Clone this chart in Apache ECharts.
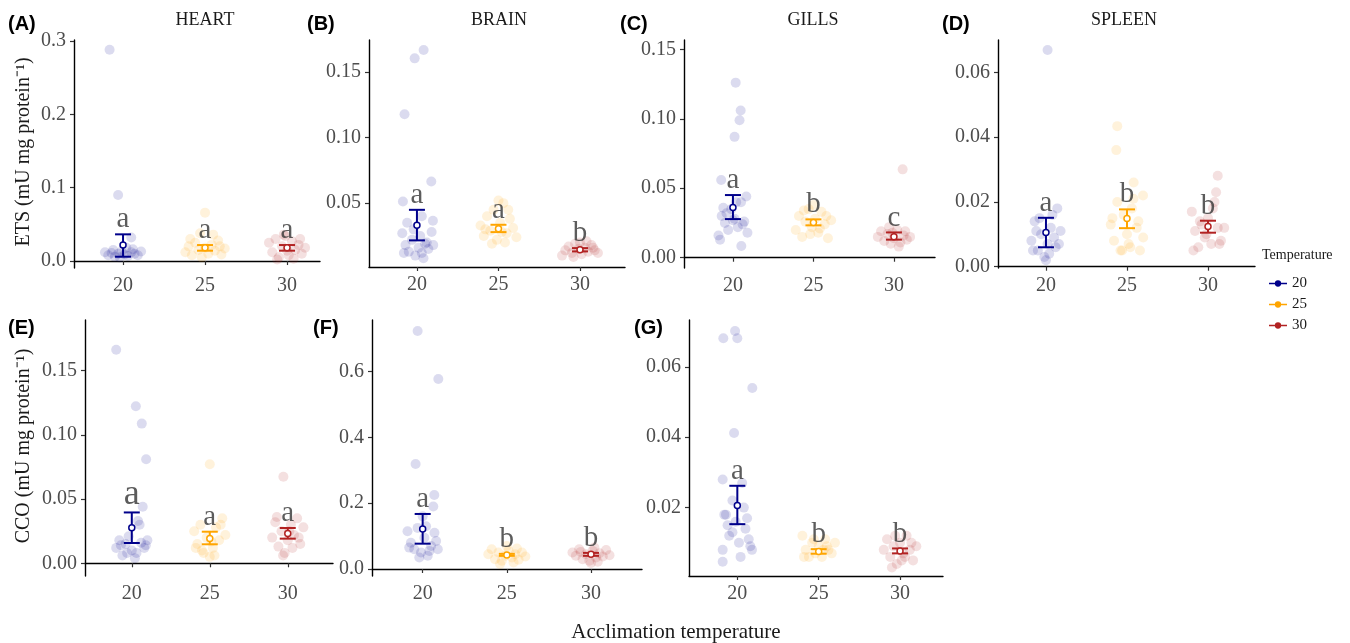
<!DOCTYPE html>
<html>
<head>
<meta charset="utf-8">
<script src="https://cdn.jsdelivr.net/npm/echarts@6/dist/echarts.min.js"></script>
<style>
  html, body { margin: 0; padding: 0; background: #fff; }
  #main { width: 1350px; height: 643px; }
</style>
</head>
<body>
<div id="main"></div>
<script type="text/javascript">
// acclimation temperatures (x categories) and legend
var temps = [20, 25, 30];
var organs = ['HEART', 'BRAIN', 'GILLS', 'SPLEEN'];

// individual points: [jitter offset, value] per temperature group
// ETS - heart (A)
var etsHeart = [
  [[-1.1,0.012],[-0.9,0.008],[-0.7,0.011],[-0.5,0.006],[-0.3,0.010],[-0.1,0.013],[0.1,0.009],[0.3,0.007],[0.5,0.012],[0.7,0.010],[0.9,0.008],[1.1,0.013],[-0.6,0.015],[0.6,0.016],[0.2,0.018],[-0.2,0.005],[0.5,0.032],[-0.82,0.288],[-0.3,0.090]],
  [[-1.2,0.012],[-1.0,0.020],[-0.8,0.008],[-0.6,0.025],[-0.4,0.015],[-0.2,0.005],[0,0.018],[0.2,0.010],[0.4,0.022],[0.6,0.014],[0.8,0.028],[1.0,0.009],[1.2,0.017],[-0.3,0.038],[0.5,0.036],[0,0.066],[-0.9,0.030],[0.9,0.020]],
  [[-1.1,0.025],[-0.9,0.012],[-0.7,0.030],[-0.5,0.005],[-0.3,0.020],[-0.1,0.034],[0.1,0.008],[0.3,0.027],[0.5,0.015],[0.7,0.022],[0.9,0.010],[1.1,0.018],[-0.6,0.002],[0.4,0.003],[0,0.014],[0.8,0.030],[-0.2,0.036]]
];
// ETS - brain (B)
var etsBrain = [
  [[-0.9,0.027],[-0.7,0.018],[-0.5,0.013],[-0.3,0.022],[-0.1,0.010],[0.1,0.016],[0.3,0.012],[0.5,0.019],[0.7,0.015],[0.9,0.028],[1.0,0.018],[-0.8,0.012],[0.2,0.025],[-0.2,0.030],[0.4,0.008],[0.6,0.020],[-0.6,0.035],[0.3,0.040],[0.41,0.1668],[-0.14,0.1604],[-0.76,0.1178],[0.88,0.0665],[-0.86,0.0513],[0.98,0.0365]],
  [[-1.1,0.033],[-0.9,0.025],[-0.7,0.040],[-0.5,0.029],[-0.3,0.045],[-0.1,0.022],[0.1,0.035],[0.3,0.050],[0.5,0.027],[0.7,0.038],[0.9,0.031],[1.1,0.024],[-0.4,0.019],[0.4,0.020],[0,0.052],[-0.8,0.030],[0.6,0.045],[0.2,0.028]],
  [[-1.1,0.010],[-0.9,0.014],[-0.7,0.017],[-0.5,0.012],[-0.3,0.019],[-0.1,0.015],[0.1,0.011],[0.3,0.016],[0.5,0.013],[0.7,0.018],[0.9,0.014],[1.1,0.012],[0,0.020],[-0.4,0.009],[0.4,0.021],[0.8,0.016]]
];
// ETS - gills (C)
var etsGills = [
  [[-0.9,0.016],[-0.7,0.030],[-0.5,0.025],[-0.3,0.020],[-0.1,0.035],[0.1,0.028],[0.3,0.022],[0.5,0.040],[0.7,0.026],[0.9,0.018],[-0.8,0.013],[0.6,0.024],[-0.4,0.032],[0,0.027],[0.52,0.0084],[0.83,0.044],[-0.73,0.056],[0.1,0.087],[0.41,0.099],[0.48,0.106],[0.17,0.126],[-0.6,0.036],[0.2,0.040]],
  [[-1.1,0.020],[-0.9,0.030],[-0.7,0.015],[-0.5,0.026],[-0.3,0.035],[-0.1,0.022],[0.1,0.028],[0.3,0.018],[0.5,0.033],[0.7,0.024],[0.9,0.014],[1.1,0.027],[0,0.038],[-0.6,0.034],[0.4,0.021],[0.8,0.030],[-0.2,0.017]],
  [[-1.0,0.015],[-0.8,0.019],[-0.6,0.012],[-0.4,0.017],[-0.2,0.010],[0,0.014],[0.2,0.020],[0.4,0.011],[0.6,0.016],[0.8,0.013],[1.0,0.015],[-0.3,0.022],[0.3,0.008],[-0.1,0.018],[0.54,0.0636],[0.7,0.019]]
];
// ETS - spleen (D)
var etsSpleen = [
  [[-0.9,0.008],[-0.7,0.014],[-0.5,0.005],[-0.3,0.010],[-0.1,0.003],[0.1,0.007],[0.3,0.012],[0.5,0.009],[0.7,0.018],[0.9,0.011],[-0.8,0.005],[0.2,0.004],[-0.4,0.015],[0.6,0.006],[0,0.002],[-0.6,0.011],[0.4,0.016],[0.8,0.007],[0.1,0.0669]],
  [[-1.0,0.013],[-0.8,0.008],[-0.6,0.020],[-0.4,0.005],[-0.2,0.016],[0,0.010],[0.2,0.006],[0.4,0.021],[0.6,0.012],[0.8,0.005],[1.0,0.009],[-0.9,0.015],[0.3,0.018],[-0.3,0.005],[0.7,0.014],[0.41,0.026],[0.99,0.022],[-0.6,0.0434],[-0.66,0.036],[0.1,0.007]],
  [[-1.0,0.017],[-0.8,0.011],[-0.6,0.006],[-0.4,0.013],[-0.2,0.009],[0,0.015],[0.2,0.007],[0.4,0.020],[0.6,0.012],[0.8,0.008],[1.0,0.012],[-0.9,0.005],[0.5,0.023],[-0.1,0.010],[0.3,0.018],[0.7,0.007],[0.6,0.0281],[-0.5,0.014]]
];
// CCO - heart (E)
var ccoHeart = [
  [[-1.0,0.1663],[0.26,0.1223],[0.64,0.1088],[0.92,0.0811],[0.7,0.044],[-1.0,0.012],[-0.8,0.018],[-0.6,0.006],[-0.4,0.015],[-0.2,0.021],[0,0.010],[0.2,0.004],[0.4,0.033],[0.6,0.016],[0.8,0.012],[1.0,0.018],[-0.7,0.014],[0.5,0.030],[0.3,0.008],[-0.3,0.008],[0.9,0.014]],
  [[-1.0,0.025],[-0.8,0.015],[-0.6,0.030],[-0.4,0.008],[-0.2,0.020],[0,0.005],[0.2,0.012],[0.4,0.028],[0.6,0.018],[0.8,0.035],[1.0,0.022],[-0.5,0.010],[0.3,0.006],[-0.9,0.012],[0.7,0.030],[0.1,0.017],[0,0.0772]],
  [[-1.0,0.020],[-0.8,0.032],[-0.6,0.013],[-0.4,0.025],[-0.2,0.008],[0,0.018],[0.2,0.030],[0.4,0.022],[0.6,0.035],[0.8,0.015],[1.0,0.028],[-0.3,0.006],[0.3,0.012],[-0.7,0.036],[0.7,0.020],[0.1,0.025],[-0.28,0.0674]]
];
// CCO - brain (F)
var ccoBrain = [
  [[-0.3,0.7238],[0.93,0.5778],[-0.42,0.3193],[0.69,0.225],[0.63,0.19],[-0.9,0.115],[-0.7,0.080],[-0.5,0.060],[-0.3,0.125],[-0.1,0.050],[0.1,0.095],[0.3,0.040],[0.5,0.070],[0.7,0.110],[0.9,0.060],[-0.8,0.065],[0.2,0.130],[-0.2,0.035],[0.4,0.055],[0.8,0.085],[0,0.160]],
  [[-1.1,0.045],[-0.9,0.060],[-0.7,0.030],[-0.5,0.050],[-0.3,0.025],[-0.1,0.040],[0.1,0.055],[0.3,0.035],[0.5,0.045],[0.7,0.028],[0.9,0.050],[1.1,0.038],[0,0.070],[-0.4,0.015],[0.4,0.020],[0.6,0.062]],
  [[-1.1,0.050],[-0.9,0.040],[-0.7,0.060],[-0.5,0.030],[-0.3,0.045],[-0.1,0.025],[0.1,0.055],[0.3,0.035],[0.5,0.048],[0.7,0.038],[0.9,0.058],[1.1,0.042],[0,0.018],[-0.6,0.052],[0.4,0.022],[0.2,0.065]]
];
// CCO - gills (G)
var ccoGills = [
  [[-0.14,0.0702],[-0.86,0.0681],[0,0.0681],[0.92,0.054],[-0.2,0.0412],[-0.9,0.028],[-0.7,0.018],[-0.5,0.012],[-0.3,0.022],[-0.1,0.016],[0.1,0.010],[0.3,0.027],[0.5,0.014],[0.7,0.011],[0.9,0.008],[-0.9,0.008],[-0.9,0.0046],[0.2,0.006],[-0.6,0.015],[0.4,0.020],[0.6,0.017],[-0.3,0.013],[0.8,0.009],[-0.8,0.018]],
  [[-1.0,0.012],[-0.8,0.008],[-0.6,0.006],[-0.4,0.010],[-0.2,0.007],[0,0.009],[0.2,0.006],[0.4,0.011],[0.6,0.008],[0.8,0.007],[1.0,0.010],[-0.9,0.006],[0.5,0.009],[-0.3,0.011],[0.3,0.008]],
  [[-1.0,0.008],[-0.8,0.011],[-0.6,0.006],[-0.4,0.009],[-0.2,0.004],[0,0.010],[0.2,0.007],[0.4,0.012],[0.6,0.008],[0.8,0.005],[1.0,0.009],[-0.5,0.003],[0.3,0.006],[-0.3,0.012],[0.7,0.010],[0.1,0.005]]
];

// mean and 95% CI per group
var etsHeartMean = [0.0218, 0.0182, 0.0182], etsHeartLow = [0.0059, 0.0141, 0.0141], etsHeartHigh = [0.0364, 0.0218, 0.0218];
var etsBrainMean = [0.0332, 0.0305, 0.0145], etsBrainLow = [0.0216, 0.0279, 0.0132], etsBrainHigh = [0.0449, 0.0335, 0.0157];
var etsGillsMean = [0.0362, 0.0254, 0.0151], etsGillsLow = [0.0278, 0.0233, 0.0130], etsGillsHigh = [0.0451, 0.0276, 0.0182];
var etsSpleenMean = [0.0106, 0.0149, 0.0124], etsSpleenLow = [0.0060, 0.0119, 0.0105], etsSpleenHigh = [0.0151, 0.0177, 0.0142];
var ccoHeartMean = [0.0277, 0.0194, 0.0233], ccoHeartLow = [0.0158, 0.0148, 0.0192], ccoHeartHigh = [0.0396, 0.0246, 0.0275];
var ccoBrainMean = [0.1216, 0.0426, 0.0446], ccoBrainLow = [0.077, 0.040, 0.040], ccoBrainHigh = [0.1673, 0.046, 0.049];
var ccoGillsMean = [0.0206, 0.0075, 0.0077], ccoGillsLow = [0.0153, 0.0069, 0.0070], ccoGillsHigh = [0.0262, 0.0082, 0.0084];

// post-hoc letters
var etsHeartLetters = ['a', 'a', 'a'];
var etsBrainLetters = ['a', 'a', 'b'];
var etsGillsLetters = ['a', 'b', 'c'];
var etsSpleenLetters = ['a', 'b', 'b'];
var ccoHeartLetters = ['a', 'a', 'a'];
var ccoBrainLetters = ['a', 'b', 'b'];
var ccoGillsLetters = ['a', 'b', 'b'];

// y tick labels
var ticksA = [0, 0.1, 0.2, 0.3];
var ticksB = [0.05, 0.10, 0.15];
var ticksC = [0, 0.05, 0.10, 0.15];
var ticksD = [0, 0.02, 0.04, 0.06];
var ticksE = [0, 0.05, 0.10, 0.15];
var ticksF = [0, 0.2, 0.4, 0.6];
var ticksG = [0.02, 0.04, 0.06];

var colors = ['#00008B', '#FFA500', '#B22222'];
var serif = "'Liberation Serif', 'Times New Roman', serif";

// panel layout (pixel boxes of each plot area and axis ranges)
var panels = [
  {tag:'(A)', pts:etsHeart, mean:etsHeartMean, lo:etsHeartLow, hi:etsHeartHigh, letters:etsHeartLetters, ticks:ticksA, dec:1,
   left:74, top:40, right:320, bottom:268, xMin:17.01, xMax:32.01, yMin:-0.0095, yMax:0.3014},
  {tag:'(B)', pts:etsBrain, mean:etsBrainMean, lo:etsBrainLow, hi:etsBrainHigh, letters:etsBrainLetters, ticks:ticksB, dec:2,
   left:369, top:40, right:625, bottom:267, xMin:17.06, xMax:32.76, yMin:0.0013, yMax:0.1744},
  {tag:'(C)', pts:etsGills, mean:etsGillsMean, lo:etsGillsLow, hi:etsGillsHigh, letters:etsGillsLetters, ticks:ticksC, dec:2,
   left:684, top:40, right:935, bottom:268, xMin:16.96, xMax:32.55, yMin:-0.0074, yMax:0.1567},
  {tag:'(D)', pts:etsSpleen, mean:etsSpleenMean, lo:etsSpleenLow, hi:etsSpleenHigh, letters:etsSpleenLetters, ticks:ticksD, dec:2,
   left:998, top:40, right:1255, bottom:268, xMin:17.04, xMax:32.9, yMin:-0.0004, yMax:0.0700},
  {tag:'(E)', pts:ccoHeart, mean:ccoHeartMean, lo:ccoHeartLow, hi:ccoHeartHigh, letters:ccoHeartLetters, ticks:ticksE, dec:2,
   left:85, top:320, right:333, bottom:576, xMin:17.0, xMax:32.9, yMin:-0.0099, yMax:0.1895, bigFirst:true},
  {tag:'(F)', pts:ccoBrain, mean:ccoBrainMean, lo:ccoBrainLow, hi:ccoBrainHigh, letters:ccoBrainLetters, ticks:ticksF, dec:1,
   left:372, top:320, right:642, bottom:576, xMin:16.99, xMax:33.03, yMin:-0.0213, yMax:0.757},
  {tag:'(G)', pts:ccoGills, mean:ccoGillsMean, lo:ccoGillsLow, hi:ccoGillsHigh, letters:ccoGillsLetters, ticks:ticksG, dec:2,
   left:689, top:320, right:943, bottom:576, xMin:17.03, xMax:32.64, yMin:0.00057, yMax:0.0733}
];

var tagPos = [[8,24],[307,24],[620,24],[942,24],[8,328],[313,328],[634,328]];
var titlePos = [[205,20],[499,20],[813,20],[1124,20]];

var grids = [], xAxes = [], yAxes = [], series = [];

panels.forEach(function (p, i) {
  grids.push({left: p.left, top: p.top, width: p.right - p.left, height: p.bottom - p.top, outerBoundsMode: 'none'});
  xAxes.push({
    type: 'value', gridIndex: i, min: p.xMin, max: p.xMax,
    splitLine: {show: false},
    axisLine: {show: true, lineStyle: {color: '#000', width: 1.4}},
    axisTick: {show: true, customValues: temps, length: 4, lineStyle: {color: '#333', width: 1.2}},
    axisLabel: {customValues: temps, margin: 8, color: '#4d4d4d', fontFamily: serif, fontSize: 20}
  });
  yAxes.push({
    type: 'value', gridIndex: i, min: p.yMin, max: p.yMax,
    splitLine: {show: false},
    axisLine: {show: true, lineStyle: {color: '#000', width: 1.4}},
    axisTick: {show: true, customValues: p.ticks, length: 4, lineStyle: {color: '#333', width: 1.2}},
    axisLabel: {customValues: p.ticks, margin: 8, color: '#4d4d4d', fontFamily: serif, fontSize: 20,
      formatter: function (v) { return v.toFixed(p.dec); }}
  });

  // jittered raw points
  temps.forEach(function (t, g) {
    series.push({
      type: 'scatter', name: String(t), xAxisIndex: i, yAxisIndex: i,
      data: p.pts[g].map(function (d) { return [t + d[0], d[1]]; }),
      symbolSize: 10, silent: true,
      itemStyle: {color: colors[g], opacity: 0.14},
      z: 2
    });
  });

  // mean +/- CI
  series.push({
    type: 'custom', xAxisIndex: i, yAxisIndex: i, silent: true, z: 5,
    data: temps.map(function (t, g) { return [t, p.mean[g], p.lo[g], p.hi[g]]; }),
    encode: {x: 0, y: [1, 2, 3]},
    renderItem: function (params, api) {
      var x = api.value(0);
      var pm = api.coord([x, api.value(1)]);
      var pl = api.coord([x, api.value(2)]);
      var ph = api.coord([x, api.value(3)]);
      var c = colors[params.dataIndex];
      var w = 8;
      var st = {stroke: c, lineWidth: 2};
      return {type: 'group', children: [
        {type: 'line', shape: {x1: pl[0], y1: pl[1], x2: ph[0], y2: ph[1]}, style: st},
        {type: 'line', shape: {x1: pl[0] - w, y1: pl[1], x2: pl[0] + w, y2: pl[1]}, style: st},
        {type: 'line', shape: {x1: ph[0] - w, y1: ph[1], x2: ph[0] + w, y2: ph[1]}, style: st},
        {type: 'circle', shape: {cx: pm[0], cy: pm[1], r: 3}, style: {fill: '#fff', stroke: c, lineWidth: 1.5}}
      ]};
    }
  });

  // significance letters above the upper CI
  series.push({
    type: 'scatter', xAxisIndex: i, yAxisIndex: i, silent: true, z: 6,
    symbolSize: 0,
    data: temps.map(function (t, g) {
      var item = {value: [t, p.hi[g]]};
      if (p.bigFirst && g === 0) item.label = {fontSize: 36};
      return item;
    }),
    label: {
      show: true, position: 'top', distance: 0,
      formatter: function (d) { return p.letters[d.dataIndex]; },
      fontFamily: serif, fontSize: 29, color: '#333'
    }
  });
});

var graphics = [];
panels.forEach(function (p, i) {
  graphics.push({type: 'text', x: tagPos[i][0], y: tagPos[i][1], silent: true,
    style: {text: p.tag, font: "bold 20px 'Liberation Sans', Arial, sans-serif", fill: '#000', textVerticalAlign: 'middle'}});
});
organs.forEach(function (o, i) {
  graphics.push({type: 'text', x: titlePos[i][0], y: titlePos[i][1], silent: true,
    style: {text: o, font: "18px " + serif, fill: '#1a1a1a', textAlign: 'center', textVerticalAlign: 'middle'}});
});
graphics.push({type: 'text', x: 24, y: 152, rotation: Math.PI / 2, silent: true,
  style: {text: 'ETS (mU mg protein\u207B\u00B9)', font: "20px " + serif, fill: '#1a1a1a', textAlign: 'center', textVerticalAlign: 'middle'}});
graphics.push({type: 'text', x: 24, y: 446, rotation: Math.PI / 2, silent: true,
  style: {text: 'CCO (mU mg protein\u207B\u00B9)', font: "20px " + serif, fill: '#1a1a1a', textAlign: 'center', textVerticalAlign: 'middle'}});
graphics.push({type: 'text', x: 676, y: 632, silent: true,
  style: {text: 'Acclimation temperature', font: "21px " + serif, fill: '#1a1a1a', textAlign: 'center', textVerticalAlign: 'middle'}});
graphics.push({type: 'text', x: 1262, y: 255, silent: true,
  style: {text: 'Temperature', font: "14px " + serif, fill: '#1a1a1a', textVerticalAlign: 'middle'}});

var myChart = echarts.init(document.getElementById('main'), null, {renderer: 'canvas'});
var option = {
  backgroundColor: '#fff',
  animation: false,
  grid: grids,
  xAxis: xAxes,
  yAxis: yAxes,
  legend: {
    orient: 'vertical', left: 1264, top: 271,
    itemWidth: 18, itemHeight: 8, itemGap: 6,
    selectedMode: false,
    icon: 'path://M0,3.2H20V4.8H0Z M10,0.5A3.5,3.5 0 1 1 9.99,0.5Z',
    textStyle: {fontFamily: serif, fontSize: 15, color: '#1a1a1a', lineHeight: 15},
    data: temps.map(function (t, g) {
      return {name: String(t), itemStyle: {color: colors[g], opacity: 1}};
    })
  },
  graphic: graphics,
  series: series
};
myChart.setOption(option);
</script>
</body>
</html>
